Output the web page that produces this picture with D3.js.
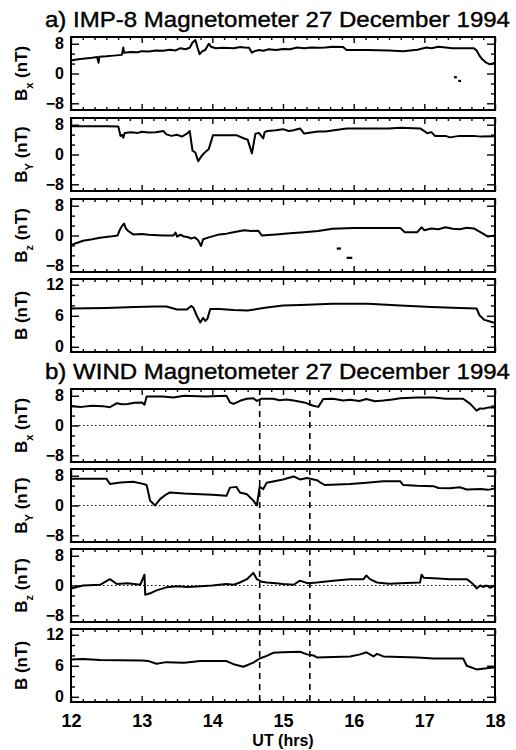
<!DOCTYPE html>
<html>
<head>
<meta charset="utf-8">
<script src="https://cdn.jsdelivr.net/npm/d3@7"></script>
<style>
body { margin: 0; background: #fff; }
svg { display: block; }
text { font-family: "Liberation Sans", Arial, sans-serif; fill: #000; }
</style>
</head>
<body>
<svg id="chart"></svg>
<script>
// UT hours on the x axis
var xTicks = [12, 13, 14, 15, 16, 17, 18];
var compTicks = [-8, 0, 8];
var magTicks = [0, 6, 12];

// a) IMP-8 magnetometer, [UT, nT]
var impBx = [[12.00,3.5],[12.1,3.8],[12.2,4.0],[12.3,4.2],[12.37,4.4],[12.39,2.9],[12.40,4.5],[12.5,4.6],[12.6,4.8],[12.72,5.0],[12.74,7.0],[12.75,5.6],[12.85,5.8],[12.95,5.7],[13.0,6.0],[13.1,5.9],[13.2,6.2],[13.3,6.1],[13.4,6.4],[13.48,6.2],[13.55,6.8],[13.62,6.5],[13.68,6.9],[13.72,8.3],[13.76,9.0],[13.79,7.0],[13.82,5.2],[13.86,6.0],[13.9,6.3],[13.95,8.0],[13.98,7.2],[14.05,6.8],[14.15,6.9],[14.3,6.8],[14.4,7.1],[14.45,7.0],[14.52,6.9],[14.56,5.6],[14.6,6.0],[14.66,6.3],[14.72,6.1],[14.8,6.5],[14.9,6.3],[15.0,6.6],[15.1,6.5],[15.2,7.0],[15.3,6.8],[15.4,7.0],[15.5,6.9],[15.6,7.0],[15.7,7.2],[15.85,7.1],[15.9,6.3],[16.2,6.3],[16.5,6.2],[16.7,6.0],[16.8,6.2],[16.9,6.4],[17.03,7.0],[17.1,6.8],[17.2,7.2],[17.3,7.0],[17.4,6.8],[17.7,6.8],[17.74,6.2],[17.78,4.8],[17.82,3.8],[17.87,3.0],[17.92,2.5],[17.96,2.6],[18.0,3.0]];
var impBxBits = [[17.42,17.46,-1.0],[17.48,17.52,-2.0]];
var impBy = [[12,7.6],[12.5,7.6],[12.67,7.5],[12.70,5.0],[12.72,5.3],[12.74,4.5],[12.76,5.8],[12.85,6.0],[12.95,5.8],[13.0,6.1],[13.1,5.9],[13.2,6.0],[13.31,6.3],[13.35,5.4],[13.42,5.0],[13.5,5.3],[13.57,4.8],[13.64,5.6],[13.68,6.3],[13.72,1.0],[13.76,0.5],[13.80,-1.8],[13.84,-0.6],[13.88,0.3],[13.95,1.5],[14.01,5.2],[14.2,5.2],[14.34,5.2],[14.45,4.3],[14.5,4.0],[14.56,0.3],[14.59,3.5],[14.61,5.6],[14.66,5.8],[14.72,4.3],[14.74,6.0],[14.78,6.3],[14.9,6.5],[15.0,6.8],[15.08,6.3],[15.15,6.5],[15.24,7.0],[15.3,5.6],[15.35,5.8],[15.5,6.2],[15.6,6.2],[15.9,7.0],[16.2,7.0],[16.5,7.0],[16.66,7.2],[16.94,7.0],[17.0,6.3],[17.04,5.7],[17.1,6.0],[17.15,5.0],[17.3,5.0],[17.36,4.6],[17.5,5.0],[17.7,5.0],[17.8,4.8],[18.0,4.9]];
var impBz = [[12,-2.6],[12.08,-2.0],[12.17,-1.4],[12.3,-1.0],[12.41,-0.6],[12.55,-0.3],[12.66,0.0],[12.69,1.5],[12.72,2.5],[12.75,3.2],[12.78,1.8],[12.81,1.2],[12.88,0.3],[13.0,0.4],[13.1,0.2],[13.3,0.0],[13.45,0.0],[13.48,0.8],[13.5,-0.3],[13.55,0.2],[13.6,-0.3],[13.65,-0.4],[13.7,-0.8],[13.75,-0.5],[13.8,-1.3],[13.84,-2.8],[13.87,-1.0],[13.95,-0.5],[14.1,0.3],[14.2,0.5],[14.3,0.9],[14.45,1.4],[14.55,1.2],[14.65,1.3],[14.70,0.0],[14.9,0.3],[15.1,0.6],[15.3,0.9],[15.5,1.2],[15.7,1.8],[16.0,2.0],[16.3,2.0],[16.66,2.0],[16.72,0.9],[16.9,0.9],[16.96,2.2],[17.0,1.4],[17.1,1.9],[17.2,1.7],[17.3,2.2],[17.4,1.8],[17.5,1.7],[17.6,2.1],[17.7,1.9],[17.83,0.5],[17.9,-0.3],[18.0,0.0]];
var impBzBits = [[15.76,15.82,-3.5],[15.90,15.98,-6.0]];
var impB = [[12,7.4],[12.5,7.5],[12.9,7.7],[13.2,7.8],[13.35,7.8],[13.5,7.2],[13.64,7.2],[13.7,7.9],[13.73,7.6],[13.78,6.0],[13.83,4.7],[13.87,5.6],[13.9,5.0],[13.93,5.4],[13.97,7.3],[14.1,7.3],[14.3,7.1],[14.5,7.0],[14.77,7.6],[15.0,8.0],[15.25,8.1],[15.7,8.3],[16.2,8.3],[16.66,8.0],[17.1,7.7],[17.5,7.5],[17.74,7.4],[17.78,6.1],[17.85,5.2],[17.93,4.9],[18.0,4.6]];

// b) WIND magnetometer, [UT, nT]
var windBx = [[12,5.2],[12.15,5.0],[12.3,5.3],[12.45,5.2],[12.55,4.9],[12.65,6.0],[12.72,5.7],[12.8,5.8],[12.9,6.1],[13.0,6.2],[13.04,5.6],[13.07,7.8],[13.3,7.8],[13.45,7.5],[13.6,8.0],[13.9,7.8],[14.2,8.0],[14.25,6.2],[14.3,5.8],[14.4,6.7],[14.49,7.2],[14.58,7.3],[14.63,6.6],[14.7,7.2],[14.86,7.2],[14.95,6.8],[15.05,7.0],[15.15,6.7],[15.3,6.2],[15.43,5.3],[15.5,5.0],[15.57,7.1],[15.71,7.2],[15.85,6.7],[15.95,6.9],[16.08,6.6],[16.18,7.1],[16.3,6.5],[16.42,6.7],[16.55,7.0],[16.66,7.3],[16.9,7.5],[17.13,7.5],[17.3,7.2],[17.55,7.2],[17.65,5.8],[17.74,4.0],[17.79,4.6],[17.83,4.5],[17.9,4.8],[18.0,4.8]];
var windBy = [[12,7.2],[12.5,7.2],[12.55,5.8],[12.7,6.2],[12.88,6.4],[13.02,5.8],[13.07,5.5],[13.12,1.3],[13.19,0.0],[13.26,1.7],[13.35,3.0],[13.4,3.5],[13.6,3.2],[13.83,3.0],[14.0,2.9],[14.2,2.6],[14.25,4.8],[14.34,5.0],[14.39,3.5],[14.49,3.0],[14.58,1.3],[14.63,0.0],[14.67,5.0],[14.72,4.4],[14.77,6.1],[15.0,7.0],[15.15,7.8],[15.24,7.0],[15.34,7.4],[15.48,6.8],[15.52,6.3],[15.59,5.5],[15.95,5.8],[16.18,6.1],[16.42,6.5],[16.66,6.5],[16.7,5.5],[16.9,5.3],[17.13,5.2],[17.2,4.7],[17.36,4.6],[17.5,4.9],[17.6,4.3],[17.8,4.4],[17.9,4.2],[18.0,4.6]];
var windBz = [[12,-0.8],[12.17,0.0],[12.41,0.2],[12.55,1.7],[12.65,0.4],[12.8,0.6],[12.98,0.2],[13.04,2.9],[13.05,-2.5],[13.12,-2.1],[13.21,-1.3],[13.35,-0.5],[13.5,-0.2],[13.65,-0.4],[13.83,-0.2],[14.0,0.0],[14.2,0.4],[14.3,0.2],[14.39,0.8],[14.49,1.7],[14.58,3.4],[14.63,1.7],[14.7,1.0],[14.77,0.8],[14.9,0.6],[15.0,0.4],[15.15,0.2],[15.24,1.3],[15.35,0.6],[15.48,0.8],[15.71,1.3],[15.95,1.7],[16.14,1.7],[16.18,2.7],[16.23,1.7],[16.33,0.8],[16.5,0.5],[16.66,0.6],[16.94,0.8],[16.96,2.9],[16.99,2.1],[17.2,1.9],[17.36,1.7],[17.6,1.7],[17.69,0.4],[17.74,-0.8],[17.79,0.0],[17.83,-0.4],[17.88,0.0],[17.93,-0.6],[18.0,0.0]];
var windB = [[12,7.2],[12.17,7.3],[12.41,7.1],[13.0,7.0],[13.1,6.9],[13.21,6.4],[13.35,6.7],[13.6,6.6],[13.83,6.9],[14.2,6.9],[14.3,6.3],[14.44,5.8],[14.58,6.6],[14.67,7.4],[14.77,7.9],[14.86,8.5],[15.0,8.6],[15.24,8.7],[15.34,8.2],[15.43,8.0],[15.48,7.6],[15.71,7.7],[15.95,7.8],[16.09,8.2],[16.18,8.6],[16.28,7.8],[16.33,8.3],[16.42,7.8],[16.66,7.7],[16.9,7.6],[17.13,7.4],[17.55,7.4],[17.6,6.0],[17.74,5.3],[17.88,5.5],[18.0,5.7]];
var windEvents = [14.67, 15.38];

var W = 516, H = 750;
var svg = d3.select('#chart').attr('width', W).attr('height', H);
var x = d3.scaleLinear().domain([12, 18]).range([71, 495]);
var panelH = 73;

var line = function(y) {
  return d3.line().x(function(d) { return x(d[0]); }).y(function(d) { return y(d[1]); });
};

var axis_ticks = function(g, y, majors, top, showX) {
  var minor = [];
  for (var i = 0; i < majors.length - 1; i++) {
    var step = (majors[i + 1] - majors[i]) / 3;
    minor.push(majors[i] + step, majors[i] + 2 * step);
  }
  var xMinor = d3.range(12, 18.001, 1 / 6).filter(function(t) { return Math.abs(t - Math.round(t)) > 0.01; });
  var bottom = top + panelH;

  var left = g.append('g').attr('transform', 'translate(' + x.range()[0] + ',0)')
    .call(d3.axisLeft(y).tickValues(majors).tickSize(-8).tickPadding(7).tickFormat(d3.format('d')));
  left.selectAll('text').style('font-size', '16px').style('font-weight', 'bold');
  g.append('g').attr('transform', 'translate(' + x.range()[0] + ',0)')
    .call(d3.axisLeft(y).tickValues(minor).tickSize(-4).tickFormat(''));
  g.append('g').attr('transform', 'translate(' + x.range()[1] + ',0)')
    .call(d3.axisRight(y).tickValues(majors).tickSize(-8).tickFormat(''));
  g.append('g').attr('transform', 'translate(' + x.range()[1] + ',0)')
    .call(d3.axisRight(y).tickValues(minor).tickSize(-4).tickFormat(''));

  g.append('g').attr('transform', 'translate(0,' + top + ')')
    .call(d3.axisTop(x).tickValues(xTicks).tickSize(-6).tickFormat(''));
  g.append('g').attr('transform', 'translate(0,' + top + ')')
    .call(d3.axisTop(x).tickValues(xMinor).tickSize(-3).tickFormat(''));
  var bx = g.append('g').attr('transform', 'translate(0,' + bottom + ')')
    .call(d3.axisBottom(x).tickValues(xTicks).tickSize(-6).tickPadding(showX ? 12 : 3).tickFormat(showX ? d3.format('d') : ''));
  bx.selectAll('text').style('font-size', '18px').style('font-weight', 'bold');
  g.append('g').attr('transform', 'translate(0,' + bottom + ')')
    .call(d3.axisBottom(x).tickValues(xMinor).tickSize(-3).tickFormat(''));

  g.selectAll('.domain').remove();
  g.selectAll('.tick line').attr('stroke', '#000').attr('stroke-width', 1.4);
};

var draw_panel = function(top, cfg) {
  var y = d3.scaleLinear().domain(cfg.domain).range([top + panelH, top]);
  var g = svg.append('g');

  if (cfg.zero) {
    g.append('line')
      .attr('x1', x(12)).attr('x2', x(18)).attr('y1', y(0)).attr('y2', y(0))
      .attr('stroke', '#000').attr('stroke-width', 1.2).attr('stroke-dasharray', '1.5,2.5');
  }
  if (cfg.events) {
    g.selectAll('line.ev').data(cfg.events).enter().append('line')
      .attr('class', 'ev')
      .attr('x1', function(d) { return x(d); }).attr('x2', function(d) { return x(d); })
      .attr('y1', top).attr('y2', top + panelH)
      .attr('stroke', '#000').attr('stroke-width', 1.6).attr('stroke-dasharray', '6,5');
  }

  g.append('path').datum(cfg.data)
    .attr('d', line(y))
    .attr('fill', 'none').attr('stroke', '#000').attr('stroke-width', 2).attr('stroke-linejoin', 'round');

  if (cfg.bits) {
    g.selectAll('line.bit').data(cfg.bits).enter().append('line')
      .attr('class', 'bit')
      .attr('x1', function(d) { return x(d[0]); }).attr('x2', function(d) { return x(d[1]); })
      .attr('y1', function(d) { return y(d[2]); }).attr('y2', function(d) { return y(d[2]); })
      .attr('stroke', '#000').attr('stroke-width', 2.2);
  }

  axis_ticks(g, y, cfg.ticks, top, cfg.showX);

  g.append('rect')
    .attr('x', x(12)).attr('y', top).attr('width', x(18) - x(12)).attr('height', panelH)
    .attr('fill', 'none').attr('stroke', '#000').attr('stroke-width', 2);

  var lab = g.append('text')
    .attr('transform', 'translate(27,' + (top + panelH / 2) + ') rotate(-90)')
    .attr('text-anchor', 'middle')
    .style('font-size', '17px').style('font-weight', 'bold');
  lab.append('tspan').text('B');
  if (cfg.sub) {
    lab.append('tspan').text(cfg.sub).attr('baseline-shift', 'sub').style('font-size', '11px');
  }
  lab.append('tspan').text(' (nT)');
};

var title = function(yPos, txt) {
  svg.append('text').attr('x', 45).attr('y', yPos)
    .attr('textLength', 465).attr('lengthAdjust', 'spacingAndGlyphs')
    .style('font-size', '22px')
    .attr('stroke', '#000').attr('stroke-width', 0.4)
    .text(txt);
};

var compDomain = [-9.8, 9.8];
var magDomain = [-1, 13.1];

title(27, 'a) IMP-8 Magnetometer  27 December 1994');
var topsA = [37, 118, 199, 279];
draw_panel(topsA[0], {data: impBx, bits: impBxBits, sub: 'x', domain: compDomain, ticks: compTicks});
draw_panel(topsA[1], {data: impBy, sub: 'Y', domain: compDomain, ticks: compTicks});
draw_panel(topsA[2], {data: impBz, bits: impBzBits, sub: 'z', domain: compDomain, ticks: compTicks});
draw_panel(topsA[3], {data: impB, sub: '', domain: magDomain, ticks: magTicks});

title(379, 'b) WIND Magnetometer  27 December 1994');
var topsB = [389, 469, 549, 629];
draw_panel(topsB[0], {data: windBx, sub: 'x', domain: compDomain, ticks: compTicks, zero: true, events: windEvents});
draw_panel(topsB[1], {data: windBy, sub: 'Y', domain: compDomain, ticks: compTicks, zero: true, events: windEvents});
draw_panel(topsB[2], {data: windBz, sub: 'z', domain: compDomain, ticks: compTicks, zero: true, events: windEvents});
draw_panel(topsB[3], {data: windB, sub: '', domain: magDomain, ticks: magTicks, events: windEvents, showX: true});

svg.append('text')
  .attr('x', (x(12) + x(18)) / 2).attr('y', 746)
  .attr('text-anchor', 'middle')
  .style('font-size', '16px').style('font-weight', 'bold')
  .text('UT (hrs)');
</script>
</body>
</html>
